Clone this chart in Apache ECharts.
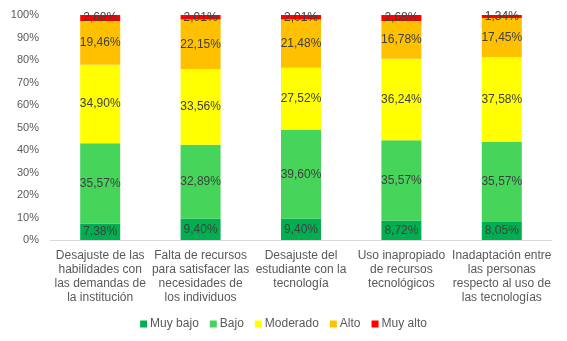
<!DOCTYPE html>
<html><head><meta charset="utf-8">
<script src="https://cdn.jsdelivr.net/npm/echarts@6/dist/echarts.min.js"></script>
<style>html,body{margin:0;padding:0;background:#fff}#c{width:567px;height:341px}</style>
</head><body><div id="c"></div>
<script>
var categories = [
  "Desajuste de las\nhabilidades con\nlas demandas de\nla institución",
  "Falta de recursos\npara satisfacer las\nnecesidades de\nlos individuos",
  "Desajuste del\nestudiante con la\ntecnología",
  "Uso inapropiado\nde recursos\ntecnológicos",
  "Inadaptación entre\nlas personas\nrespecto al uso de\nlas tecnologías"
];
var seriesNames = ["Muy bajo", "Bajo", "Moderado", "Alto", "Muy alto"];
var muyBajo = [7.38, 9.40, 9.40, 8.72, 8.05];
var bajo = [35.57, 32.89, 39.60, 35.57, 35.57];
var moderado = [34.90, 33.56, 27.52, 36.24, 37.58];
var alto = [19.46, 22.15, 21.48, 16.78, 17.45];
var muyAlto = [2.68, 2.01, 2.01, 2.68, 1.34];
var colors = ["#00B050", "#47D45B", "#FFFF00", "#FFC000", "#FF0000"];
var dataSets = [muyBajo, bajo, moderado, alto, muyAlto];

var font = "Liberation Sans, Arial, sans-serif";
var chart = echarts.init(document.getElementById('c'), null, {renderer: 'canvas'});
chart.setOption({
  animation: false,
  color: colors,
  grid: {left: 50, right: 15, top: 15, bottom: 101, containLabel: false},
  legend: {
    top: 313, left: 'center', itemWidth: 7, itemHeight: 7, itemGap: 11,
    icon: 'rect',
    textStyle: {color: '#595959', fontSize: 12, fontFamily: font, padding: [0, 0, 0, -2]},
    data: seriesNames
  },
  xAxis: {
    type: 'category', data: categories,
    axisLine: {lineStyle: {color: '#D9D9D9'}},
    axisTick: {show: false},
    axisLabel: {color: '#595959', fontSize: 12, fontFamily: font, lineHeight: 14, margin: 9, interval: 0}
  },
  yAxis: {
    type: 'value', min: 0, max: 100, interval: 10,
    axisLabel: {formatter: '{value}%', color: '#595959', fontSize: 11, fontFamily: font, margin: 11},
    axisLine: {show: false}, axisTick: {show: false},
    splitLine: {show: false}
  },
  series: dataSets.map(function(d, i) {
    return {
      name: seriesNames[i], type: 'bar', stack: 'total', data: d,
      barWidth: 40,
      label: {
        show: true, position: 'inside', color: '#404040', fontSize: 12, fontFamily: font,
        formatter: function(p) { return p.value.toFixed(2).replace('.', ',') + '%'; }
      }
    };
  })
});
</script></body></html>
